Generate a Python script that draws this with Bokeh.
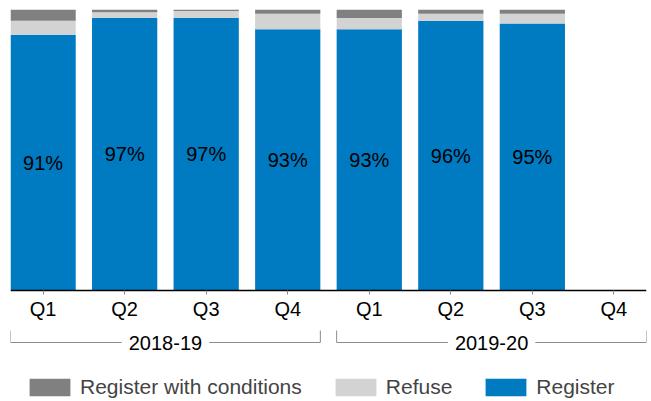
import numpy as np
from bokeh.plotting import figure
from bokeh.models import (ColumnDataSource, Range1d, LinearAxis, FixedTicker,
                          Legend, LegendItem)
from bokeh.core.properties import value
from bokeh.embed import file_html
from bokeh.resources import INLINE

# ---------------- data ----------------
quarters = ["Q1", "Q2", "Q3", "Q4", "Q1", "Q2", "Q3", "Q4"]
years = ["2018-19"] * 4 + ["2019-20"] * 4
register = [91, 97, 97, 93, 93, 96, 95, np.nan]
refuse = [5, 2, 2.5, 5.5, 4, 2.5, 3.5, np.nan]
conditions = [4, 1, 0.5, 1.5, 3, 1.5, 1.5, np.nan]

# ---------------- style / layout ----------------
BLUE = "#007AC1"
LIGHT = "#D3D3D3"
DARK = "#808080"
BRACKET = "#8C8C8C"
FONT = "Liberation Sans"
BAR_W = 0.8

FRAME_H = 392      # frame height in px
AXIS_PX = 281      # px from frame top down to the zero line
Y_MAX = 100


def py(px_below_axis):
    """convert a pixel offset below the axis line into data units"""
    return -px_below_axis * Y_MAX / AXIS_PX


y_min = py(FRAME_H - AXIS_PX)
n = len(quarters)
x = list(range(n))

src = ColumnDataSource(dict(x=x, register=register, refuse=refuse,
                            conditions=conditions))

p = figure(width=651, height=401, x_range=Range1d(-BAR_W / 2, n - 1 + BAR_W / 2),
           y_range=Range1d(y_min, Y_MAX), output_backend="svg",
           toolbar_location=None, x_axis_location=None, y_axis_location=None,
           min_border_left=10, min_border_right=5, min_border_top=9,
           min_border_bottom=0, outline_line_color=None)
p.xgrid.visible = False
p.ygrid.visible = False

rs = p.vbar_stack(["register", "refuse", "conditions"], x="x", width=BAR_W,
                  fill_color=[BLUE, LIGHT, DARK], line_color=None, source=src)

# axis at zero
ax = LinearAxis(fixed_location=0, ticker=FixedTicker(ticks=x),
                major_label_overrides={i: q for i, q in enumerate(quarters)},
                axis_line_color="black", axis_line_width=1.5,
                major_tick_out=4, major_tick_in=0, major_tick_line_color="#888888",
                minor_tick_out=0, minor_tick_in=0, major_label_standoff=3,
                major_label_text_font=FONT, major_label_text_font_size="20px",
                major_label_text_color="black")
p.add_layout(ax, "below")

# value labels in the middle of the blue bars
idx = [i for i, v in enumerate(register) if not np.isnan(v)]
p.text(x=[x[i] for i in idx], y=[register[i] / 2 for i in idx],
       text=[f"{register[i]:.0f}%" for i in idx], text_align="center",
       text_baseline="middle", text_font=value(FONT), text_font_size="20px",
       text_color="black")

# group brackets
groups = list(dict.fromkeys(years))
xs, ys, cx = [], [], []
for g in groups:
    gi = [i for i, yv in enumerate(years) if yv == g]
    s, e = min(gi) - BAR_W / 2, max(gi) + BAR_W / 2
    xs.append([s, s, e, e])
    ys.append([py(40), py(52), py(52), py(40)])
    cx.append((min(gi) + max(gi)) / 2)
p.multi_line(xs, ys, line_color=BRACKET, line_width=1)
p.text(x=cx, y=[py(52)] * len(groups), text=groups, text_align="center",
       text_baseline="middle", text_font=value(FONT), text_font_size="20px",
       text_color="black", background_fill_color="white", padding=7)

legend = Legend(items=[LegendItem(label="Register with conditions", renderers=[rs[2]]),
                       LegendItem(label="Refuse", renderers=[rs[1]]),
                       LegendItem(label="Register", renderers=[rs[0]])],
                orientation="horizontal", location=(14, 2), glyph_width=51,
                glyph_height=22, label_standoff=5, spacing=28,
                label_text_font=FONT, label_text_font_size="21px",
                padding=0, margin=0, border_line_alpha=0,
                background_fill_alpha=0)
p.add_layout(legend)

open("out.html", "w").write(file_html(p, INLINE))
